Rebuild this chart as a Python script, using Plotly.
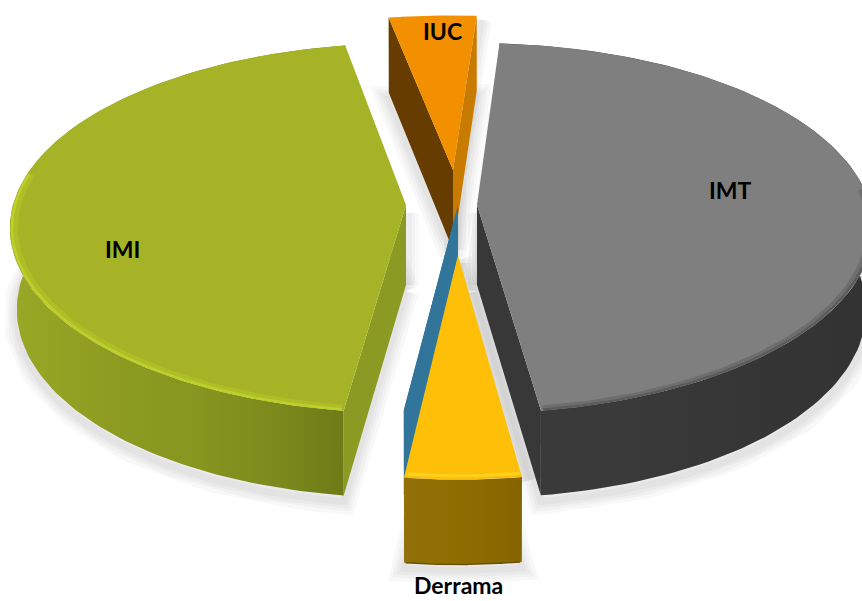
import numpy as np
import plotly.graph_objects as go

# Data (percent shares)
categories = ["IMI", "", "Derrama", "IMT", "IUC"]
shares = [45.0, 0.3, 4.2, 46.7, 3.8]

# Style / geometry
start_angle = 100.0
top_colors = ["#a6b327", "#31759a", "#fdbf07", "#7f7f7f", "#f29000"]
A, B, K, H = 393.0, 182.0, 0.125, 80.0
tips = {"IMI": (406, 205), "": (458, 205), "Derrama": (458, 255), "IMT": (477, 205), "IUC": (453, 170)}
scale = {"IMI": (1, 1), "": (0.87, 1), "Derrama": (1, 1.08), "IMT": (1, 1), "IUC": (1.06, 0.955)}
FONT = "Lato"

sweeps = np.array(shares) / sum(shares) * 360
starts = start_angle + np.concatenate([[0], np.cumsum(sweeps)[:-1]])
geo = {c: (s, s + w) for c, s, w in zip(categories, starts, sweeps)}


def proj(name, deg, r=1.0):
    t = np.radians(deg)
    X, Y = r * np.cos(t), r * np.sin(t)
    w = 1 + K * Y
    tx, ty = tips[name]
    sx, sy = scale[name]
    return tx + sx * A * X / w, ty - sy * B * Y / w


def drop(name, deg, r=1.0):
    t = np.radians(deg)
    x, y = proj(name, deg, r)
    return x - 7 * r * np.cos(t) * abs(np.cos(t)), y + H * (1 - 0.06 * r * np.sin(t))


def arc(a0, a1, n=120):
    return np.linspace(a0, a1, n)


fig = go.Figure()


def poly(xs, ys, color, grad=None):
    kw = dict(fillgradient=grad) if grad else dict(fillcolor=color)
    fig.add_trace(go.Scatter(x=list(xs), y=list(ys), mode="lines", fill="toself",
                             line=dict(width=0, color=color), hoverinfo="skip",
                             showlegend=False, **kw))


def stroke(xs, ys, color, width):
    fig.add_trace(go.Scatter(x=list(xs), y=list(ys), mode="lines",
                             line=dict(width=width, color=color), hoverinfo="skip",
                             showlegend=False))


def hgrad(stops):
    return dict(type="horizontal", colorscale=stops)


def soft(xs, ys, widths=(26, 19, 13, 7), alpha=0.026):
    for w in widths:
        stroke(xs, ys, f"rgba(0,0,0,{alpha})", w)


def shadow(name, dy=6):
    a0, a1 = geo[name]
    ang = arc(a0, a1)
    tx, ty = tips[name]
    xb, yb = drop(name, ang)
    xs = np.array([tx] + list(xb) + [tx])
    ys = np.array([ty + H] + list(yb) + [ty + H])
    soft(xs, ys + dy)
    # soft shade beside the inner edge of the slice
    soft(np.array([tx + 2, tx + 2]), np.array([ty + 8, ty + H]), widths=(22, 14, 8), alpha=0.022)


def side_wall(name, deg, color):
    tx, ty = tips[name]
    x, y = proj(name, deg)
    xb, yb = drop(name, deg)
    poly([tx, x, xb, tx], [ty, y, yb, ty + H], color)


def outer_wall(name, stops):
    a0, a1 = geo[name]
    ang = arc(a0, a1)
    xt, yt = proj(name, ang)
    xb, yb = drop(name, ang)
    poly(list(xt) + list(xb[::-1]), list(yt) + list(yb[::-1]), stops[0][1], hgrad(stops))


def top(name, color):
    a0, a1 = geo[name]
    ang = arc(a0, a1)
    tx, ty = tips[name]
    xt, yt = proj(name, ang)
    poly([tx] + list(xt), [ty] + list(yt), color)


col = dict(zip(categories, top_colors))

for nm in ["IUC", "IMI", "IMT", "Derrama"]:
    shadow(nm)

# grey stripe on the right of the Derrama slice and of the IUC slice
for nm, deg in [("Derrama", geo["Derrama"][1]), ("IUC", geo["IUC"][0])]:
    px, py = proj(nm, deg)
    soft(np.array([tips[nm][0] + 3, px + 5]), np.array([tips[nm][1] + 4, py + 4]),
         widths=(20, 13, 7), alpha=0.03)

# IUC (far slice, both side walls visible)
side_wall("IUC", geo["IUC"][1], "#663c00")
side_wall("IUC", geo["IUC"][0], "#c97b00")
top("IUC", col["IUC"])

# IMI
outer_wall("IMI", [[0, "#9aa826"], [0.35, "#8b9a20"], [0.55, "#87961f"], [0.8, "#7b8a1c"], [1, "#6d7a17"]])
side_wall("IMI", geo["IMI"][1], "#8b9a23")
top("IMI", col["IMI"])
ang = arc(170, geo["IMI"][1] - 0.3)
xr, yr = proj("IMI", ang, 0.988)
stroke(xr, yr, "rgba(190,208,40,0.4)", 6)
xr, yr = proj("IMI", ang, 0.995)
stroke(xr, yr, "#bfd02a", 2.5)

# IMT
outer_wall("IMT", [[0, "#3a3a3a"], [0.3, "#3a3a3a"], [1, "#323232"]])
side_wall("IMT", geo["IMT"][0], "#383838")
top("IMT", col["IMT"])
ang = arc(geo["IMT"][0] + 0.3, 360 + 5)
xr, yr = proj("IMT", ang, 0.99)
stroke(xr, yr, "rgba(80,80,80,0.35)", 5)
xr, yr = proj("IMT", ang, 0.996)
stroke(xr, yr, "#5c5c5c", 2.5)

# Thin slice, then Derrama
side_wall("", geo[""][0], col[""])
top("", col[""])

outer_wall("Derrama", [[0, "#92700a"], [0.45, "#8f6e00"], [1, "#856500"]])
top("Derrama", col["Derrama"])
ang = arc(geo["Derrama"][0] + 0.2, geo["Derrama"][1] - 0.2)
xr, yr = proj("Derrama", ang, 0.985)
stroke(xr, yr, "#ffd21f", 3)
xr, yr = drop("Derrama", ang)
stroke(xr, yr, "#6b5200", 1.5)

# Labels
labels = [("IUC", 442, 31, 23), ("IMT", 730, 190, 23), ("IMI", 122, 249, 23), ("Derrama", 458, 585, 23)]
for t, x, y, s in labels:
    fig.add_annotation(x=x, y=y, text=f"<b>{t}</b>", showarrow=False,
                       font=dict(family=FONT, size=s, color="#000"))

fig.update_layout(
    width=862, height=601, margin=dict(l=0, r=0, t=0, b=0),
    paper_bgcolor="white", plot_bgcolor="white", showlegend=False,
    xaxis=dict(range=[0, 862], visible=False, fixedrange=True),
    yaxis=dict(range=[601, 0], visible=False, fixedrange=True),
)
fig.write_html("out.html", config=dict(displayModeBar=False),
               post_script="document.body.style.margin='0';document.documentElement.style.overflow='hidden';")
